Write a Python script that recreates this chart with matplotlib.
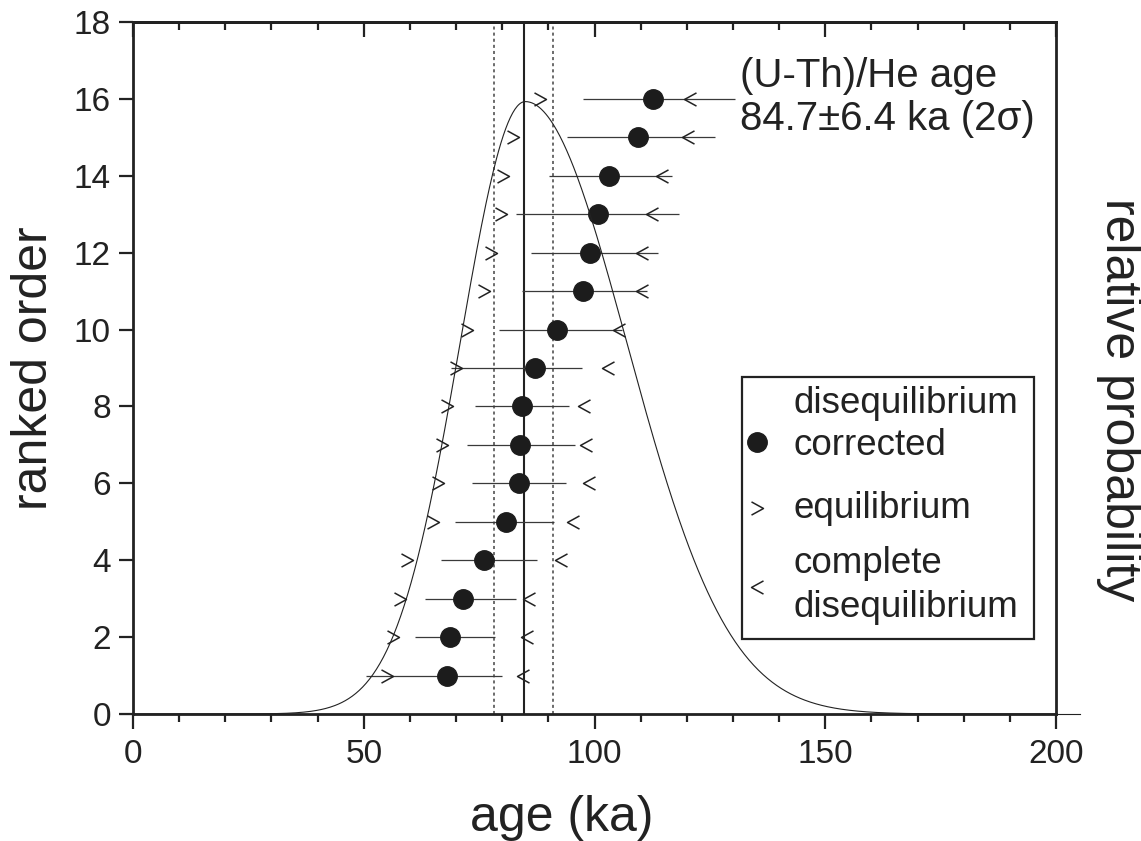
import numpy as np
import matplotlib.pyplot as plt
from matplotlib.path import Path
from matplotlib.patches import Rectangle

plt.rcParams['font.family'] = ['Liberation Sans', 'DejaVu Sans']

# ranked single-grain (U-Th)/He ages (ka)
rank = np.arange(1, 17)
age_corr = [68.1, 68.7, 71.6, 76.0, 80.8, 83.6, 83.9, 84.3, 87.2, 91.8, 97.4, 99.0, 100.8, 103.2, 109.5, 112.7]
err_lo = [50.5, 61.0, 63.3, 66.7, 69.8, 73.4, 72.3, 74.0, 68.9, 79.2, 84.2, 86.2, 83.0, 90.1, 94.1, 97.4]
err_hi = [79.9, 78.4, 82.9, 87.5, 91.3, 93.9, 95.7, 94.5, 97.3, 106.0, 111.3, 113.8, 118.4, 116.7, 126.1, 130.4]
age_equil = [55.0, 56.4, 57.9, 59.4, 64.9, 66.0, 66.9, 68.1, 70.0, 72.3, 76.1, 77.6, 79.7, 80.1, 82.3, 88.2]
age_diseq = [84.4, 85.3, 85.8, 92.7, 95.4, 98.7, 98.1, 97.8, 103.0, 105.4, 110.2, 110.4, 112.5, 114.6, 120.3, 120.7]

mean_age = 84.7
mean_err = 6.4

# relative probability curve (skewed)
pdf_mode = 85.0
pdf_sig_left = 14.1
pdf_sig_right = 22.0
pdf_peak_rank = 15.93

legend_labels = [['disequilibrium', 'corrected'], ['equilibrium'], ['complete', 'disequilibrium']]

# chevron markers like the plain > and < glyphs
gt = Path([(-0.5, 0.55), (0.5, 0.0), (-0.5, -0.55)], [Path.MOVETO, Path.LINETO, Path.LINETO])
lt = Path([(0.5, 0.55), (-0.5, 0.0), (0.5, -0.55)], [Path.MOVETO, Path.LINETO, Path.LINETO])

fig = plt.figure(figsize=(11.41, 8.41), dpi=100)
ax = fig.add_axes([133 / 1141, 1 - 714 / 841, (1056 - 133) / 1141, (714 - 22) / 841])
ax.set_xlim(0, 200)
ax.set_ylim(0, 18)

ax.hlines(rank, err_lo, err_hi, color='#3a3a3a', lw=0.9, zorder=2)
ax.plot(age_corr, rank, 'o', ls='none', ms=14, color='#1c1c1c', zorder=3)
ax.plot(age_equil, rank, marker=gt, ls='none', ms=9.5, mfc='none', mec='#222222', mew=1.1, zorder=3)
ax.plot(age_diseq, rank, marker=lt, ls='none', ms=9.5, mfc='none', mec='#222222', mew=1.1, zorder=3)

ax.axvline(mean_age, color='#222222', lw=1.5, zorder=1)
ax.axvline(mean_age - mean_err, color='#444444', lw=1.1, ls=(0, (2, 2)), zorder=1)
ax.axvline(mean_age + mean_err, color='#444444', lw=1.1, ls=(0, (2, 2)), zorder=1)

# thin baseline of the probability axis, a bit wider than the frame
ax.plot([-2.8, 205.2], [0, 0], color='#222222', lw=0.8, clip_on=False)

ax.set_xticks([0, 50, 100, 150, 200])
ax.set_xticks(np.arange(0, 201, 10), minor=True)
ax.set_yticks(np.arange(0, 19, 2))
ax.tick_params(axis='x', which='major', direction='out', length=11, width=1.6, labelsize=24, pad=7)
ax.tick_params(axis='x', which='minor', direction='out', length=6, width=1.6)
ax.tick_params(axis='y', which='major', direction='out', length=10, width=1.6, labelsize=24, pad=6)
for sp in ax.spines.values():
    sp.set_linewidth(2)
    sp.set_color('#222222')
ax.tick_params(colors='#222222', which='both')

top = ax.secondary_xaxis('top')
top.set_xticks([0, 50, 100, 150, 200])
top.set_xticks(np.arange(0, 201, 10), minor=True)
top.tick_params(which='major', direction='in', length=11, width=1.6, labeltop=False, colors='#222222')
top.tick_params(which='minor', direction='in', length=6, width=1.6, colors='#222222')
top.spines['top'].set_linewidth(2)

ax.set_xlabel('age (ka)', fontsize=36, labelpad=18, color='#222222')
ax.xaxis.label.set_x(0.465)
ax.set_ylabel('ranked order', fontsize=36, labelpad=12, color='#222222')

ax2 = ax.twinx()
xs = np.linspace(0, 200, 801)
sig = np.where(xs < pdf_mode, pdf_sig_left, pdf_sig_right)
prob = np.exp(-0.5 * ((xs - pdf_mode) / sig) ** 2)
ax2.plot(xs, prob, color='#222222', lw=0.8)
ax2.set_ylim(0, 18 / pdf_peak_rank)
ax2.set_yticks([])
for sp in ax2.spines.values():
    sp.set_visible(False)
ax2.set_ylabel('relative probability', fontsize=36, rotation=270, labelpad=62, color='#222222')
ax2.yaxis.label.set_y(0.454)

# age annotation
ax.text(131.5, 16.3, '(U-Th)/He age', fontsize=29, va='baseline', color='#222222')
ax.text(131.5, 15.2, '84.7\u00b16.4 ka (2\u03c3)', fontsize=29, va='baseline', color='#222222')

# legend box drawn by hand so the symbol sits on the last label line
box_x0, box_x1, box_y0, box_y1 = 131.9, 195.2, 1.94, 8.77
ax.add_patch(Rectangle((box_x0, box_y0), box_x1 - box_x0, box_y1 - box_y0,
                       fill=False, lw=1.6, ec='#222222', zorder=5))
sym_x, txt_x = 135.3, 143.1
line_y = [[7.83, 6.74], [5.10], [3.67, 2.52]]
sym_y = [7.08, 5.36, 3.31]
ax.plot(sym_x, sym_y[0], 'o', ms=14, color='#1c1c1c', zorder=6)
ax.plot(sym_x, sym_y[1], marker=gt, ms=9.5, mfc='none', mec='#222222', mew=1.1, zorder=6)
ax.plot(sym_x, sym_y[2], marker=lt, ms=9.5, mfc='none', mec='#222222', mew=1.1, zorder=6)
for labels, ys in zip(legend_labels, line_y):
    for lab, y in zip(labels, ys):
        ax.text(txt_x, y, lab, fontsize=26.5, va='baseline', color='#222222', zorder=6)

fig.savefig('out.png', dpi=100)
